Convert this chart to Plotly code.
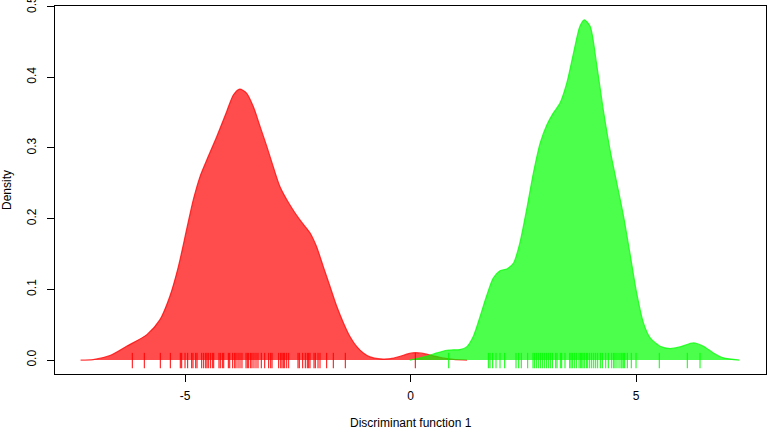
import plotly.graph_objects as go

# Density curve of group 1 (red)
red_x = [-7.32, -7.04, -6.67, -6.30, -5.85, -5.56, -5.34, -5.15, -4.97, -4.82, -4.67, -4.52,
         -4.30, -4.08, -3.93, -3.79, -3.64, -3.49, -3.34, -3.19, -3.05, -2.90, -2.68, -2.46,
         -2.23, -2.09, -1.94, -1.79, -1.64, -1.49, -1.35, -1.20, -1.05, -0.90, -0.68, -0.45,
         -0.25, -0.05, 0.10, 0.30, 0.50, 0.70, 0.95, 1.25]
red_y = [0.000, 0.0007, 0.0064, 0.0195, 0.036, 0.0572, 0.0902, 0.1325, 0.1843, 0.2267, 0.2597, 0.2832,
         0.3161, 0.3515, 0.375, 0.383, 0.3774, 0.3585, 0.3303, 0.302, 0.2738, 0.2455, 0.2196, 0.1984,
         0.1796, 0.1608, 0.1325, 0.1043, 0.076, 0.0525, 0.0337, 0.0195, 0.0101, 0.0045, 0.0017, 0.002,
         0.005, 0.009, 0.0105, 0.009, 0.006, 0.003, 0.001, 0.000]

# Density curve of group 2 (green)
green_x = [-0.02, 0.35, 0.58, 0.80, 1.09, 1.24, 1.39, 1.54, 1.68, 1.83, 1.98, 2.13, 2.28, 2.42,
           2.57, 2.72, 2.87, 3.02, 3.16, 3.31, 3.46, 3.61, 3.75, 3.85, 3.98, 4.12, 4.27, 4.42,
           4.57, 4.72, 4.86, 5.01, 5.16, 5.31, 5.53, 5.75, 5.97, 6.27, 6.49, 6.71, 6.93, 7.29]
green_y = [0.000, 0.0054, 0.0101, 0.0139, 0.0148, 0.0186, 0.0337, 0.0619, 0.0902, 0.116, 0.1264,
           0.1288, 0.1372, 0.1655, 0.2126, 0.2644, 0.3067, 0.3326, 0.3491, 0.3632, 0.3914, 0.4339,
           0.4715, 0.4809, 0.4715, 0.4197, 0.3538, 0.2973, 0.2503, 0.2031, 0.1514, 0.0949, 0.0525,
           0.0313, 0.0195, 0.0162, 0.0186, 0.0242, 0.0195, 0.0101, 0.0031, 0.000]

# Rug values (discriminant scores)
red_rug = [-6.173, -5.907, -5.552, -5.330, -5.109, -5.078, -5.004, -4.945, -4.856, -4.827, -4.767,
           -4.738, -4.634, -4.590, -4.545, -4.517, -4.488, -4.443, -4.399, -4.368, -4.251, -4.222,
           -4.177, -4.146, -4.044, -4.013, -3.947, -3.902, -3.874, -3.829, -3.785, -3.741, -3.652,
           -3.623, -3.592, -3.548, -3.519, -3.475, -3.430, -3.386, -3.313, -3.237, -3.149, -3.104,
           -3.075, -2.927, -2.882, -2.854, -2.825, -2.794, -2.749, -2.705, -2.499, -2.470, -2.395,
           -2.337, -2.293, -2.262, -2.233, -2.144, -2.115, -2.055, -2.011, -1.863, -1.716, -1.450,
           0.102]
green_rug = [0.843, 1.721, 1.758, 1.818, 1.891, 1.980, 2.084, 2.335, 2.395, 2.452, 2.594, 2.712,
             2.741, 2.785, 2.829, 2.874, 2.918, 2.962, 3.007, 3.051, 3.095, 3.140, 3.215, 3.244,
             3.317, 3.348, 3.421, 3.525, 3.554, 3.583, 3.627, 3.672, 3.732, 3.761, 3.792, 3.820,
             3.849, 3.894, 3.925, 3.969, 4.013, 4.058, 4.102, 4.146, 4.204, 4.248, 4.324, 4.381,
             4.457, 4.501, 4.530, 4.574, 4.619, 4.663, 4.685, 4.714, 4.745, 4.803, 4.891, 4.996,
             5.512, 6.133, 6.415]

x_ticks = [-5, 0, 5]
y_ticks = [0.0, 0.1, 0.2, 0.3, 0.4, 0.5]
x_title = "Discriminant function 1"
y_title = "Density"

fig = go.Figure()
fig.add_trace(go.Scatter(x=red_x, y=red_y, mode="lines", fill="tozeroy",
                         fillcolor="rgba(255,0,0,0.7)",
                         line=dict(color="rgba(255,0,0,0.75)", width=1.2, shape="spline", smoothing=0.7),
                         hoverinfo="skip"))
fig.add_trace(go.Scatter(x=green_x, y=green_y, mode="lines", fill="tozeroy",
                         fillcolor="rgba(0,255,0,0.7)",
                         line=dict(color="rgba(0,255,0,0.75)", width=1.2, shape="spline", smoothing=0.7),
                         hoverinfo="skip"))

for vals, col in [(red_rug, "#ff0000"), (green_rug, "#00ff00")]:
    fig.add_trace(go.Scatter(x=vals, y=[-0.0007] * len(vals), mode="markers",
                             marker=dict(symbol="line-ns", size=11,
                                         line=dict(color=col, width=1)),
                             hoverinfo="skip"))

font = "Liberation Sans, Arial, Helvetica, sans-serif"
fig.update_layout(
    width=767, height=429,
    margin=dict(l=55, r=1, t=6, b=55),
    paper_bgcolor="white", plot_bgcolor="white",
    showlegend=False,
    font=dict(family=font, size=12, color="black"),
    xaxis=dict(range=[-7.887, 7.878], tickvals=x_ticks, ticktext=[str(v) for v in x_ticks],
               ticks="outside", ticklen=7, tickcolor="black", showgrid=False, zeroline=False,
               showline=True, mirror=True, linecolor="black", linewidth=1,
               ticklabelstandoff=4, automargin=False),
    yaxis=dict(range=[-0.0197, 0.5005], tickvals=y_ticks, ticktext=["%.1f" % v for v in y_ticks],
               ticks="outside", ticklen=7, tickcolor="black", showgrid=False, zeroline=False,
               showline=True, mirror=True, linecolor="black", linewidth=1,
               tickangle=-90, ticklabelstandoff=6, automargin=False,
               ticklabeloverflow="allow"),
    annotations=[
        dict(text=x_title, xref="paper", yref="paper", x=0.5, y=0, xanchor="center",
             yanchor="middle", yshift=-49, showarrow=False, font=dict(size=12)),
        dict(text=y_title, xref="paper", yref="paper", x=0, y=0.5, xanchor="center",
             yanchor="middle", xshift=-48, textangle=-90, showarrow=False, font=dict(size=12)),
    ],
)

fig.write_html("out.html", config={"displayModeBar": False},
               post_script="document.body.style.margin='0';document.body.style.overflow='hidden';")
